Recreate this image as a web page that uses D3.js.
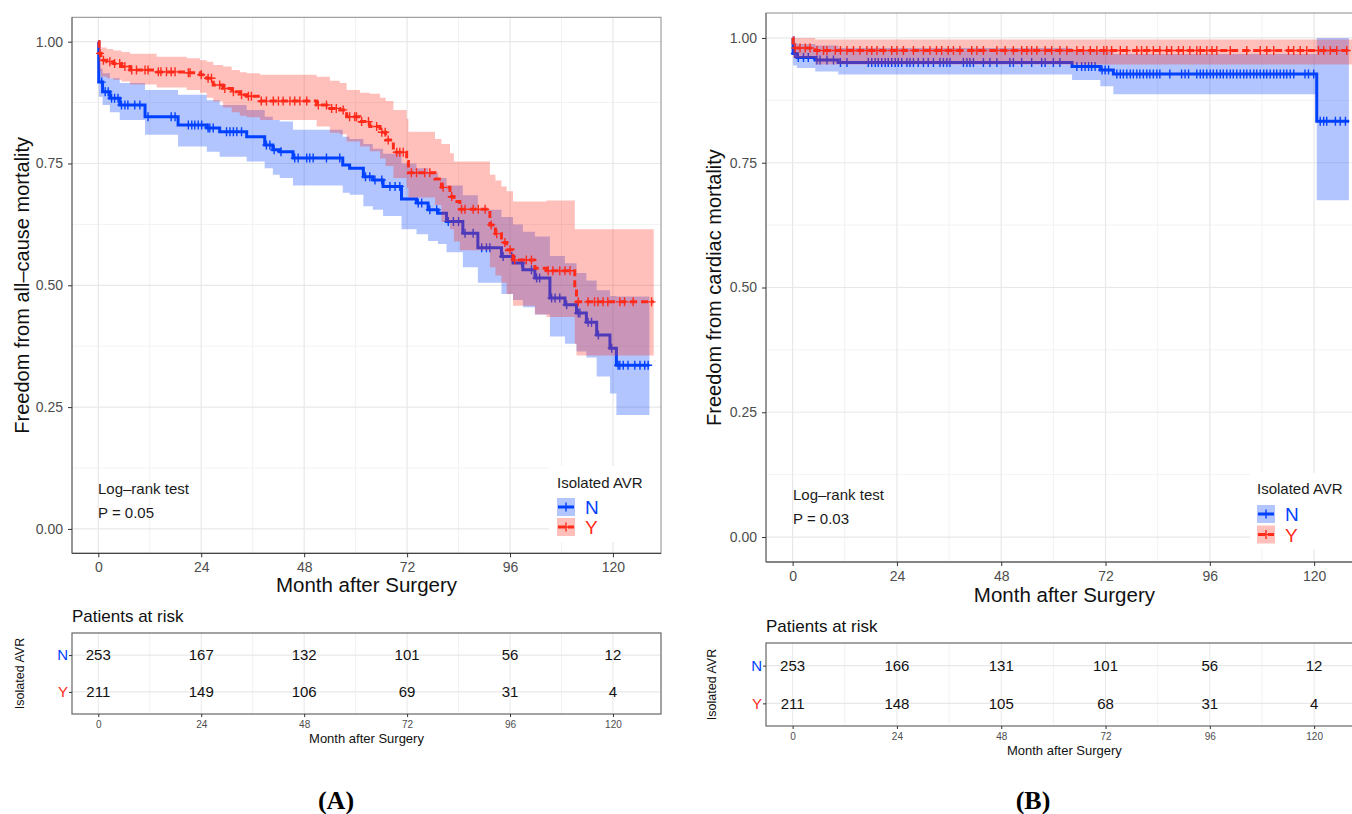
<!DOCTYPE html>
<html>
<head>
<meta charset="utf-8">
<script src="https://cdn.jsdelivr.net/npm/d3@7"></script>
<style>
    body { margin: 0; background: #fff; }
    text { font-family: "Liberation Sans", Arial, sans-serif; }
</style>
</head>
<body>
<svg id="chart" width="1352" height="814"></svg>
<script>
// ---- data ----
var months = [0, 24, 48, 72, 96, 120];
var minorMonths = [12, 36, 60, 84, 108];
var survTicks = [0, 0.25, 0.5, 0.75, 1];
var survMinor = [0.125, 0.375, 0.625, 0.875];
var groups = ["N", "Y"];

// steps: [month, survival, lower CI, upper CI]
var stepsA_N = [
    [0, 1, 1, 1], [0.1, 0.917, 0.887, 0.945], [1, 0.897, 0.870, 0.935], [2.7, 0.884, 0.855, 0.925],
    [5, 0.870, 0.839, 0.915], [10.9, 0.846, 0.809, 0.901], [18.6, 0.829, 0.785, 0.891],
    [25.3, 0.823, 0.774, 0.880], [28.3, 0.815, 0.764, 0.870], [34.6, 0.805, 0.754, 0.860],
    [38.8, 0.788, 0.740, 0.846], [40.7, 0.778, 0.727, 0.839], [42.3, 0.774, 0.720, 0.836],
    [45.4, 0.761, 0.705, 0.819], [57, 0.747, 0.690, 0.805], [58.6, 0.740, 0.686, 0.800],
    [61.8, 0.723, 0.662, 0.790], [64, 0.716, 0.655, 0.780], [66.4, 0.703, 0.642, 0.770],
    [70.7, 0.677, 0.615, 0.750], [74.2, 0.669, 0.605, 0.740], [76.9, 0.655, 0.591, 0.730],
    [79.2, 0.648, 0.585, 0.720], [81.2, 0.631, 0.568, 0.705], [85, 0.607, 0.537, 0.685],
    [88.5, 0.577, 0.505, 0.655], [94, 0.559, 0.482, 0.640], [96.7, 0.546, 0.470, 0.625],
    [99, 0.532, 0.455, 0.610], [101.8, 0.515, 0.440, 0.600], [105.3, 0.474, 0.395, 0.560],
    [108.8, 0.460, 0.380, 0.545], [111.5, 0.443, 0.364, 0.525], [113.8, 0.424, 0.352, 0.510],
    [116.2, 0.398, 0.313, 0.490], [119.3, 0.371, 0.278, 0.478], [120.8, 0.336, 0.234, 0.477]
];
var endA_N = 128.5;
var censorA_N = [0.8, 1.6, 2.3, 3.1, 3.8, 4.6, 5.4, 6.2, 6.9, 8.5, 9.7, 11.6, 17, 17.9, 21, 21.8, 22.5,
    23.3, 24.1, 25.6, 26, 26.8, 29.9, 30.7, 31.5, 32.3, 33.4, 39.2, 40, 41, 42.6, 45.8, 46.6, 48.6, 49.3,
    50.1, 53.2, 56.3, 62.3, 63.3, 64.5, 66.1, 68, 69.2, 70.3, 74.6, 75.4, 77.3, 78.9, 81.6, 82.8, 84,
    85.5, 87.4, 89.4, 90.5, 91.3, 94.4, 96.4, 98.7, 101, 102.2, 102.9, 105.7, 106.5, 107.6, 109.2, 111.9,
    112.3, 114.2, 115, 116.6, 119.7, 121.2, 121.6, 122.4, 123.5, 125.1, 126.3, 127.4, 128.2];

var stepsA_Y = [
    [0, 1, 1, 1], [0.2, 0.976, 0.940, 0.990], [0.6, 0.962, 0.928, 0.988], [2, 0.959, 0.925, 0.985],
    [3.5, 0.955, 0.922, 0.982], [5.4, 0.949, 0.918, 0.979], [7.4, 0.942, 0.912, 0.975],
    [13.6, 0.938, 0.906, 0.969], [20.6, 0.936, 0.901, 0.966], [23.7, 0.932, 0.895, 0.962],
    [25.3, 0.925, 0.885, 0.959], [26.8, 0.911, 0.877, 0.952], [29.1, 0.904, 0.865, 0.949],
    [31.1, 0.897, 0.855, 0.942], [33, 0.891, 0.848, 0.937], [34.6, 0.888, 0.845, 0.935],
    [37.7, 0.878, 0.839, 0.932], [50.9, 0.870, 0.826, 0.928], [54, 0.863, 0.813, 0.920],
    [56.3, 0.860, 0.810, 0.915], [57.9, 0.846, 0.795, 0.901], [61, 0.836, 0.785, 0.895],
    [63.3, 0.826, 0.775, 0.893], [65.7, 0.814, 0.760, 0.885], [67, 0.798, 0.745, 0.878],
    [68.8, 0.773, 0.720, 0.860], [71.9, 0.754, 0.700, 0.842], [72.3, 0.731, 0.680, 0.815],
    [78.5, 0.718, 0.665, 0.800], [80, 0.701, 0.630, 0.790], [82, 0.682, 0.615, 0.771],
    [82.9, 0.672, 0.590, 0.754], [84.3, 0.656, 0.572, 0.754], [91.3, 0.624, 0.537, 0.727],
    [92.6, 0.606, 0.520, 0.715], [94, 0.588, 0.505, 0.703], [95.2, 0.573, 0.482, 0.693],
    [96.7, 0.552, 0.458, 0.672], [101.8, 0.535, 0.440, 0.672], [104.5, 0.530, 0.435, 0.674],
    [111.1, 0.494, 0.380, 0.615], [111.5, 0.466, 0.356, 0.615]
];
var endA_Y = 129.5;
var censorA_Y = [0.4, 1.2, 2.7, 3.8, 5, 6.2, 7.8, 8.9, 10.9, 11.6, 14, 14.6, 15.9, 17, 17.9, 21, 21.4,
    24, 25.6, 26.4, 28.3, 29.5, 31.5, 33.4, 35, 35.7, 38, 39.2, 40.8, 42, 43.1, 44.7, 45.8, 47, 48.6,
    51.3, 53.2, 54.4, 55.5, 57.1, 58.6, 59.8, 60.2, 61.4, 63, 64.9, 66.1, 66.9, 67.6, 69.6, 70.3, 71.1,
    73, 74.2, 76.1, 77.3, 80.4, 82.4, 84.7, 85.5, 87.4, 88.6, 90.2, 91.6, 92.9, 94.8, 96, 97.1, 99.8,
    101, 104.9, 106, 107.6, 108.8, 110, 111.9, 114.2, 115.7, 116.5, 117.7, 118.8, 121.6, 122.7, 124.7, 129];

var stepsB_N = [
    [0, 1, 1, 1], [0.1, 0.969, 0.945, 0.990], [1, 0.961, 0.940, 0.988], [5.2, 0.956, 0.933, 0.985],
    [10.5, 0.951, 0.927, 0.980], [64.3, 0.943, 0.916, 0.975], [70.8, 0.936, 0.903, 0.972],
    [73.8, 0.928, 0.887, 0.968], [120.6, 0.833, 0.675, 1.0]
];
var endB_N = 128;
var censorB_N = [0.5, 1.3, 2.5, 3.6, 5.6, 6.3, 7.9, 9.4, 11, 12.5, 17.4, 18.2, 19, 19.7, 20.5, 21.3, 22,
    22.8, 23.6, 24.3, 25.1, 26.3, 27, 27.8, 28.9, 30.1, 31.2, 32.4, 33.9, 34.7, 35.5, 36.2, 39.3, 40.1,
    40.8, 41.6, 43.9, 45.4, 47, 50, 50.8, 52.7, 55, 57.3, 58.1, 60, 61.5, 65.4, 66.5, 67.3, 68.1, 68.8,
    69.6, 71.2, 71.9, 72.7, 74.6, 75.4, 76.1, 76.9, 77.7, 78.4, 79.2, 79.9, 80.7, 81.5, 82.2, 83, 83.8,
    84.5, 86.8, 89.5, 90.3, 91.1, 93, 93.8, 94.5, 95.3, 96.1, 96.8, 97.6, 98.4, 99.1, 99.9, 100.7, 101.4,
    102.2, 103, 103.8, 104.5, 105.3, 106.1, 106.8, 107.6, 108.4, 109.1, 109.9, 110.7, 111.4, 112.2, 113,
    113.7, 114.5, 115.3, 117.9, 118.7, 119.9, 121.4, 122.2, 122.9, 124.9, 126, 127.2];

var stepsB_Y = [
    [0, 1, 1, 1], [0.1, 0.980, 0.960, 1.0], [5.2, 0.975, 0.947, 0.997]
];
var endB_Y = 131;
var censorB_Y = [0.6, 1.7, 2.9, 4, 5.6, 7.1, 7.9, 9.8, 11, 12.5, 14, 15.5, 17.1, 18.2, 19.4, 20.9, 22.8,
    24, 25.5, 27.8, 30.1, 31.6, 33.1, 34.3, 35.8, 37, 38.5, 41.2, 42.4, 43.9, 47, 48.9, 50.8, 52.7, 53.9,
    55, 56.2, 58.1, 59.6, 61.5, 63.1, 65.4, 66.9, 68.5, 70, 71.6, 72.3, 73.4, 75.4, 76.9, 79.2, 80.3,
    81.5, 83, 84.5, 86.1, 87.2, 88.8, 89.9, 91.4, 93, 93.8, 95.3, 96.5, 97.6, 100.7, 104.5, 107.6, 109.1,
    110.7, 114.1, 115.3, 116.8, 118.3, 121, 122.2, 123.7, 125.2, 127.5];

var riskA_N = [253, 167, 132, 101, 56, 12];
var riskA_Y = [211, 149, 106, 69, 31, 4];
var riskB_N = [253, 166, 131, 101, 56, 12];
var riskB_Y = [211, 148, 105, 68, 31, 4];

// ---- style ----
var colors = {N: "#0040ff", Y: "#ff2a1a"};
var fillOpacity = 0.3;

var panelA = {
    id: "A", left: 72, right: 661, top: 17.3, bottom: 553.3,
    yTitle: "Freedom from all\u2013cause mortality", yTitleX: 22, xTitleY: 592,
    pValue: "P = 0.05", logX: 98, logY: 494,
    legend: {bgX: 549, bgY: 466, bgW: 112, bgH: 76, x: 557, titleY: 488, keyY: 498, step: 20},
    series: [
        {group: "N", steps: stepsA_N, end: endA_N, censor: censorA_N},
        {group: "Y", steps: stepsA_Y, end: endA_Y, censor: censorA_Y}
    ],
    risk: {N: riskA_N, Y: riskA_Y}, riskTop: 633, riskBottom: 714, riskLabelX: 20,
    tag: "(A)", tagX: 336
};

var panelB = {
    id: "B", left: 766, right: 1362.8, top: 13, bottom: 562,
    yTitle: "Freedom from cardiac mortality", yTitleX: 714, xTitleY: 602,
    pValue: "P = 0.03", logX: 793, logY: 500,
    legend: {bgX: 1250, bgY: 473, bgW: 110, bgH: 76, x: 1257, titleY: 494, keyY: 505, step: 20.5},
    series: [
        {group: "N", steps: stepsB_N, end: endB_N, censor: censorB_N},
        {group: "Y", steps: stepsB_Y, end: endB_Y, censor: censorB_Y}
    ],
    risk: {N: riskB_N, Y: riskB_Y}, riskTop: 643, riskBottom: 726, riskLabelX: 712,
    tag: "(B)", tagX: 1033
};

var svg = d3.select("#chart");
var defs = svg.append("defs");

function survAt(steps, t) {
    var i = d3.bisector(function (d) { return d[0]; }).right(steps, t) - 1;
    return steps[Math.max(i, 0)][1];
}

function plusPath(cx, cy, w, h) {
    return "M" + (cx - w) + "," + cy + "H" + (cx + w) + "M" + cx + "," + (cy - h) + "V" + (cy + h);
}

function styleAxis(sel, size, color) {
    sel.attr("font-size", size);
    sel.select(".domain").remove();
    sel.selectAll(".tick line").attr("stroke", "#333");
    sel.selectAll(".tick text").attr("fill", color);
}

function drawPanel(p) {
    var x = d3.scaleLinear().domain([-6.13, 131.2]).range([p.left, p.right]);
    var y = d3.scaleLinear().domain([-0.05, 1.05]).range([p.bottom, p.top]);

    var g = svg.append("g");

    defs.append("clipPath").attr("id", "clip" + p.id)
        .append("rect")
        .attr("x", p.left).attr("y", p.top)
        .attr("width", p.right - p.left).attr("height", p.bottom - p.top);

    // grid
    var grid = g.append("g");
    grid.selectAll(null).data(minorMonths).enter().append("line")
        .attr("x1", function (d) { return x(d); }).attr("x2", function (d) { return x(d); })
        .attr("y1", p.top).attr("y2", p.bottom)
        .attr("stroke", "#f2f2f2").attr("stroke-width", 1);
    grid.selectAll(null).data(survMinor).enter().append("line")
        .attr("y1", function (d) { return y(d); }).attr("y2", function (d) { return y(d); })
        .attr("x1", p.left).attr("x2", p.right)
        .attr("stroke", "#f2f2f2").attr("stroke-width", 1);
    grid.selectAll(null).data(months).enter().append("line")
        .attr("x1", function (d) { return x(d); }).attr("x2", function (d) { return x(d); })
        .attr("y1", p.top).attr("y2", p.bottom)
        .attr("stroke", "#e8e8e8").attr("stroke-width", 1.2);
    grid.selectAll(null).data(survTicks).enter().append("line")
        .attr("y1", function (d) { return y(d); }).attr("y2", function (d) { return y(d); })
        .attr("x1", p.left).attr("x2", p.right)
        .attr("stroke", "#e8e8e8").attr("stroke-width", 1.2);

    // curves: band, line, censor marks per group
    var plot = g.append("g").attr("clip-path", "url(#clip" + p.id + ")");

    var area = d3.area().curve(d3.curveStepAfter)
        .x(function (d) { return x(d[0]); })
        .y0(function (d) { return y(d[2]); })
        .y1(function (d) { return y(d[3]); });

    var line = d3.line().curve(d3.curveStepAfter)
        .x(function (d) { return x(d[0]); })
        .y(function (d) { return y(d[1]); });

    p.series.forEach(function (s) {
        var last = s.steps[s.steps.length - 1];
        var data = s.steps.concat([[s.end, last[1], last[2], last[3]]]);
        var color = colors[s.group];

        plot.append("path").datum(data).attr("d", area)
            .attr("fill", color).attr("fill-opacity", fillOpacity);

        plot.append("path").datum(data).attr("d", line)
            .attr("fill", "none").attr("stroke", color)
            .attr("stroke-width", 3)
            .attr("stroke-dasharray", s.group === "Y" ? "7,4" : null);

        plot.selectAll(null).data(s.censor).enter().append("path")
            .attr("d", function (t) { return plusPath(x(t), y(survAt(s.steps, t)), 4, 4.5); })
            .attr("fill", "none").attr("stroke", color).attr("stroke-width", 1.4);
    });

    // legend (white box over the grid)
    var L = p.legend;
    var leg = g.append("g");
    leg.append("rect").attr("x", L.bgX).attr("y", L.bgY).attr("width", L.bgW).attr("height", L.bgH)
        .attr("fill", "#fff");
    leg.append("text").attr("x", L.x).attr("y", L.titleY)
        .attr("font-size", 15).attr("fill", "#1a1a1a").text("Isolated AVR");
    groups.forEach(function (grp, i) {
        var ky = L.keyY + i * L.step;
        leg.append("rect").attr("x", L.x).attr("y", ky).attr("width", 18).attr("height", 18)
            .attr("fill", colors[grp]).attr("fill-opacity", fillOpacity);
        leg.append("line").attr("x1", L.x + 1).attr("x2", L.x + 17).attr("y1", ky + 9).attr("y2", ky + 9)
            .attr("stroke", colors[grp]).attr("stroke-width", 3)
            .attr("stroke-dasharray", grp === "Y" ? "7,3" : null);
        leg.append("path").attr("d", plusPath(L.x + 9, ky + 9, 4, 4.5))
            .attr("stroke", colors[grp]).attr("stroke-width", 1.4);
        leg.append("text").attr("x", L.x + 28).attr("y", ky + 16)
            .attr("font-size", 19).attr("fill", colors[grp]).text(grp);
    });

    // border and axis lines
    g.append("rect").attr("x", p.left).attr("y", p.top)
        .attr("width", p.right - p.left).attr("height", p.bottom - p.top)
        .attr("fill", "none").attr("stroke", "#8c8c8c").attr("stroke-width", 1);
    g.append("line").attr("x1", p.left).attr("x2", p.right).attr("y1", p.bottom).attr("y2", p.bottom)
        .attr("stroke", "#444").attr("stroke-width", 1.2);
    g.append("line").attr("x1", p.left).attr("x2", p.left).attr("y1", p.top).attr("y2", p.bottom)
        .attr("stroke", "#666").attr("stroke-width", 1);

    var yAxis = g.append("g").attr("transform", "translate(" + p.left + ",0)")
        .call(d3.axisLeft(y).tickValues(survTicks).tickFormat(d3.format(".2f")).tickSize(4).tickPadding(5));
    styleAxis(yAxis, 14, "#4d4d4d");

    var xAxis = g.append("g").attr("transform", "translate(0," + p.bottom + ")")
        .call(d3.axisBottom(x).tickValues(months).tickSize(4).tickPadding(5));
    styleAxis(xAxis, 14, "#4d4d4d");

    // titles
    g.append("text")
        .attr("transform", "translate(" + p.yTitleX + "," + (p.top + p.bottom) / 2 + ") rotate(-90)")
        .attr("text-anchor", "middle").attr("dy", "0.35em")
        .attr("font-size", 20).attr("fill", "#111").text(p.yTitle);
    g.append("text").attr("x", (p.left + p.right) / 2).attr("y", p.xTitleY)
        .attr("text-anchor", "middle").attr("font-size", 20.5).attr("fill", "#111")
        .text("Month after Surgery");

    g.append("text").attr("x", p.logX).attr("y", p.logY)
        .attr("font-size", 15).attr("fill", "#1a1a1a").text("Log\u2013rank test");
    g.append("text").attr("x", p.logX).attr("y", p.logY + 24)
        .attr("font-size", 15).attr("fill", "#1a1a1a").text(p.pValue);

    drawRisk(p, x);

    svg.append("text").attr("x", p.tagX).attr("y", 809)
        .attr("text-anchor", "middle")
        .style("font-family", "'Liberation Serif', 'DejaVu Serif', serif")
        .attr("font-weight", "bold").attr("font-size", 26)
        .text(p.tag);
}

function drawRisk(p, x) {
    var y = d3.scalePoint().domain(groups).range([p.riskTop, p.riskBottom]).padding(0.6);
    var g = svg.append("g");

    g.append("text").attr("x", p.left).attr("y", p.riskTop - 11)
        .attr("font-size", 17).attr("fill", "#111").text("Patients at risk");

    var grid = g.append("g");
    grid.selectAll(null).data(minorMonths).enter().append("line")
        .attr("x1", function (d) { return x(d); }).attr("x2", function (d) { return x(d); })
        .attr("y1", p.riskTop).attr("y2", p.riskBottom)
        .attr("stroke", "#f2f2f2");
    grid.selectAll(null).data(months).enter().append("line")
        .attr("x1", function (d) { return x(d); }).attr("x2", function (d) { return x(d); })
        .attr("y1", p.riskTop).attr("y2", p.riskBottom)
        .attr("stroke", "#e8e8e8");
    grid.selectAll(null).data(groups).enter().append("line")
        .attr("y1", function (d) { return y(d); }).attr("y2", function (d) { return y(d); })
        .attr("x1", p.left).attr("x2", p.right)
        .attr("stroke", "#e8e8e8").attr("stroke-width", 1.2);

    groups.forEach(function (grp) {
        g.selectAll(null).data(p.risk[grp]).enter().append("text")
            .attr("x", function (d, i) { return x(months[i]); })
            .attr("y", y(grp)).attr("dy", "0.36em")
            .attr("text-anchor", "middle").attr("font-size", 15).attr("fill", "#111")
            .text(function (d) { return d; });
    });

    g.append("rect").attr("x", p.left).attr("y", p.riskTop)
        .attr("width", p.right - p.left).attr("height", p.riskBottom - p.riskTop)
        .attr("fill", "none").attr("stroke", "#666").attr("stroke-width", 1.2);

    var yAxis = g.append("g").attr("transform", "translate(" + p.left + ",0)")
        .call(d3.axisLeft(y).tickSize(3).tickPadding(1));
    styleAxis(yAxis, 15, "#111");
    yAxis.selectAll(".tick text").attr("fill", function (d) { return colors[d]; });

    var xAxis = g.append("g").attr("transform", "translate(0," + p.riskBottom + ")")
        .call(d3.axisBottom(x).tickValues(months).tickSize(3).tickPadding(4));
    styleAxis(xAxis, 10, "#4d4d4d");

    g.append("text").attr("x", (p.left + p.right) / 2).attr("y", p.riskBottom + 29)
        .attr("text-anchor", "middle").attr("font-size", 13).attr("fill", "#111")
        .text("Month after Surgery");

    g.append("text")
        .attr("transform", "translate(" + p.riskLabelX + "," + (p.riskTop + p.riskBottom) / 2 + ") rotate(-90)")
        .attr("text-anchor", "middle").attr("dy", "0.35em")
        .attr("font-size", 12.5).attr("fill", "#111").text("Isolated AVR");
}

drawPanel(panelA);
drawPanel(panelB);
</script>
</body>
</html>
